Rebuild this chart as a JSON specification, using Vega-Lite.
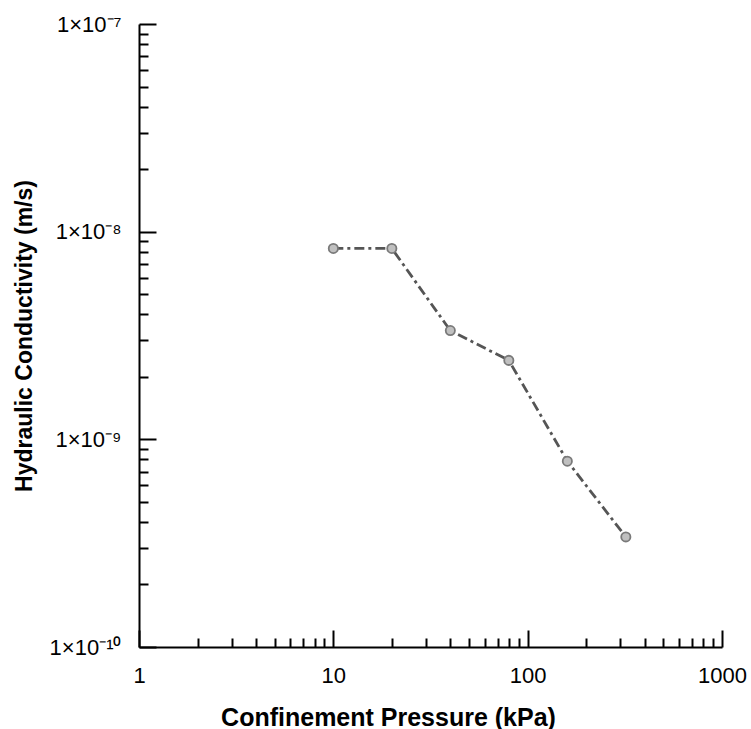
{
  "$schema": "https://vega.github.io/schema/vega-lite/v6.json",
  "autosize": "none",
  "padding": {"left": 139, "top": 24, "right": 29, "bottom": 82},
  "width": 583,
  "height": 623,
  "background": "white",
  "config": {"view": {"stroke": null}, "font": "Liberation Sans"},
  "data": {"values": [
    {"pressure": 10, "k": 8.3e-9},
    {"pressure": 20, "k": 8.3e-9},
    {"pressure": 40, "k": 3.34e-9},
    {"pressure": 80, "k": 2.4e-9},
    {"pressure": 160, "k": 7.85e-10},
    {"pressure": 320, "k": 3.39e-10}
  ]},
  "layer": [
    {
      "mark": {"type": "line", "color": "#555555", "strokeWidth": 2.8, "strokeDash": [10, 4, 3, 4]},
      "encoding": {
        "x": {"field": "pressure", "type": "quantitative",
          "scale": {"type": "log", "domain": [1, 1000], "nice": false},
          "axis": {"orient": "bottom", "values": [1, 10, 100, 1000], "format": "d", "grid": false,
            "domainColor": "black", "domainWidth": 2, "tickColor": "black", "tickWidth": 2, "tickSize": -17,
            "labelPadding": 35, "labelFontSize": 22, "labelColor": "black", "labelFont": "Liberation Sans",
            "labelFlush": false, "labelOverlap": false,
            "title": "Confinement Pressure (kPa)", "titleFontSize": 25, "titleFontWeight": "bold", "titleFont": "Liberation Sans",
            "titleColor": "black", "titleX": 249, "titleY": 78, "titleBaseline": "alphabetic", "titleAlign": "center", "titleAnchor": null}},
        "y": {"field": "k", "type": "quantitative",
          "scale": {"type": "log", "domain": [1e-10, 1e-7], "nice": false},
          "axis": {"orient": "left", "values": [1e-10, 1e-9, 1e-8, 1e-7], "grid": false,
            "labelExpr": "'1×10' + (round(log(datum.value)/LN10) == -7 ? '⁻⁷' : round(log(datum.value)/LN10) == -8 ? '⁻⁸' : round(log(datum.value)/LN10) == -9 ? '⁻⁹' : '⁻¹⁰')",
            "domainColor": "black", "domainWidth": 2, "tickColor": "black", "tickWidth": 2, "tickSize": -17,
            "labelPadding": 35, "labelFontSize": 22, "labelColor": "black", "labelFont": "Liberation Sans",
            "labelFlush": false, "labelOverlap": false, "labelBaseline": "middle",
            "title": "Hydraulic Conductivity (m/s)", "titleFontSize": 23, "titleFontWeight": "bold", "titleFont": "Liberation Sans",
            "titleColor": "black", "titleX": -108, "titleY": 311.5, "titleAngle": -90, "titleBaseline": "alphabetic", "titleAlign": "center", "titleAnchor": null}}
      }
    },
    {
      "mark": {"type": "point", "filled": true, "fill": "#c0c0c0", "stroke": "#7a7a7a", "strokeWidth": 1.8, "size": 85, "opacity": 1},
      "encoding": {
        "x": {"field": "pressure", "type": "quantitative",
          "axis": {"orient": "bottom", "values": [2, 3, 4, 5, 6, 7, 8, 9, 20, 30, 40, 50, 60, 70, 80, 90, 200, 300, 400, 500, 600, 700, 800, 900],
            "labels": false, "domain": false, "grid": false, "tickColor": "black", "tickWidth": 2, "tickSize": -9, "title": null}},
        "y": {"field": "k", "type": "quantitative",
          "axis": {"orient": "left", "values": [2e-10, 3e-10, 4e-10, 5e-10, 6e-10, 7e-10, 8e-10, 9e-10, 2e-9, 3e-9, 4e-9, 5e-9, 6e-9, 7e-9, 8e-9, 9e-9, 2e-8, 3e-8, 4e-8, 5e-8, 6e-8, 7e-8, 8e-8, 9e-8],
            "labels": false, "domain": false, "grid": false, "tickColor": "black", "tickWidth": 2, "tickSize": -9, "title": null}}
      }
    }
  ],
  "resolve": {"axis": {"x": "independent", "y": "independent"}}
}
